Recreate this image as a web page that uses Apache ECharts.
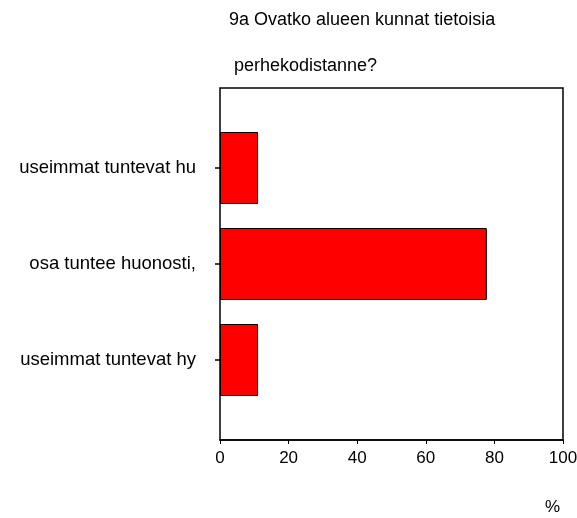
<!DOCTYPE html>
<html><head><meta charset="utf-8">
<script src="https://cdn.jsdelivr.net/npm/echarts@6/dist/echarts.min.js"></script>
<style>html,body{margin:0;padding:0;background:#fff}#c{width:577px;height:518px}</style>
</head><body><div id="c"></div>
<script>
const categories = ['useimmat tuntevat hy', 'osa tuntee huonosti,', 'useimmat tuntevat hu'];
const values = [11.1, 77.8, 11.1];
const xTicks = [0, 20, 40, 60, 80, 100];
const titleLines = ['9a Ovatko alueen kunnat tietoisia', ' perhekodistanne?'];
const unitLabel = '%';

const font = 'Liberation Sans, Arial, sans-serif';
const fs = 17;
const fsY = 18.5;
const chart = echarts.init(document.getElementById('c'));
chart.setOption({
  animation: false,
  backgroundColor: '#fff',
  title: [
    { text: titleLines[0], left: 224, top: 6, textStyle: { fontFamily: font, fontSize: 18, fontWeight: 'normal', color: '#000' } },
    { text: titleLines[1], left: 224, top: 52, textStyle: { fontFamily: font, fontSize: 18, fontWeight: 'normal', color: '#000' } }
  ],
  grid: [
    { left: 220, right: 14, top: 88, bottom: 78, show: true, borderColor: '#000', borderWidth: 1.5, backgroundColor: 'transparent', containLabel: false, outerBoundsMode: 'none' },
    { left: 220, right: 14, top: 120, bottom: 110, containLabel: false, outerBoundsMode: 'none' }
  ],
  xAxis: [
    { gridIndex: 0, type: 'value', min: 0, max: 100, interval: 20,
      axisLine: { show: true, lineStyle: { color: '#000', width: 1.5 } },
      axisTick: { show: true, length: 4, lineStyle: { color: '#000' } },
      splitLine: { show: false },
      axisLabel: { color: '#000', fontFamily: font, fontSize: fs, margin: 10, hideOverlap: false,
        formatter: v => xTicks.includes(v) ? String(v) : '' } },
    { gridIndex: 1, type: 'value', min: 0, max: 100, show: false, splitLine: { show: false } }
  ],
  yAxis: [
    { gridIndex: 0, type: 'value', min: 0, max: 1, show: false, splitLine: { show: false } },
    { gridIndex: 1, type: 'category', data: categories,
      axisLine: { show: false },
      axisTick: { show: true, alignWithLabel: true, length: 5, lineStyle: { color: '#000', width: 1.5 } },
      axisLabel: { color: '#000', fontFamily: font, fontSize: fsY, margin: 24 } }
  ],
  graphic: [
    { type: 'text', left: 545, top: 499, style: { text: unitLabel, fontFamily: font, fontSize: fs, fill: '#000' } }
  ],
  series: [{
    type: 'bar', xAxisIndex: 1, yAxisIndex: 1, data: values, barWidth: 72,
    itemStyle: { color: '#ff0000', borderColor: '#000', borderWidth: 1 }
  }]
});
</script></body></html>
